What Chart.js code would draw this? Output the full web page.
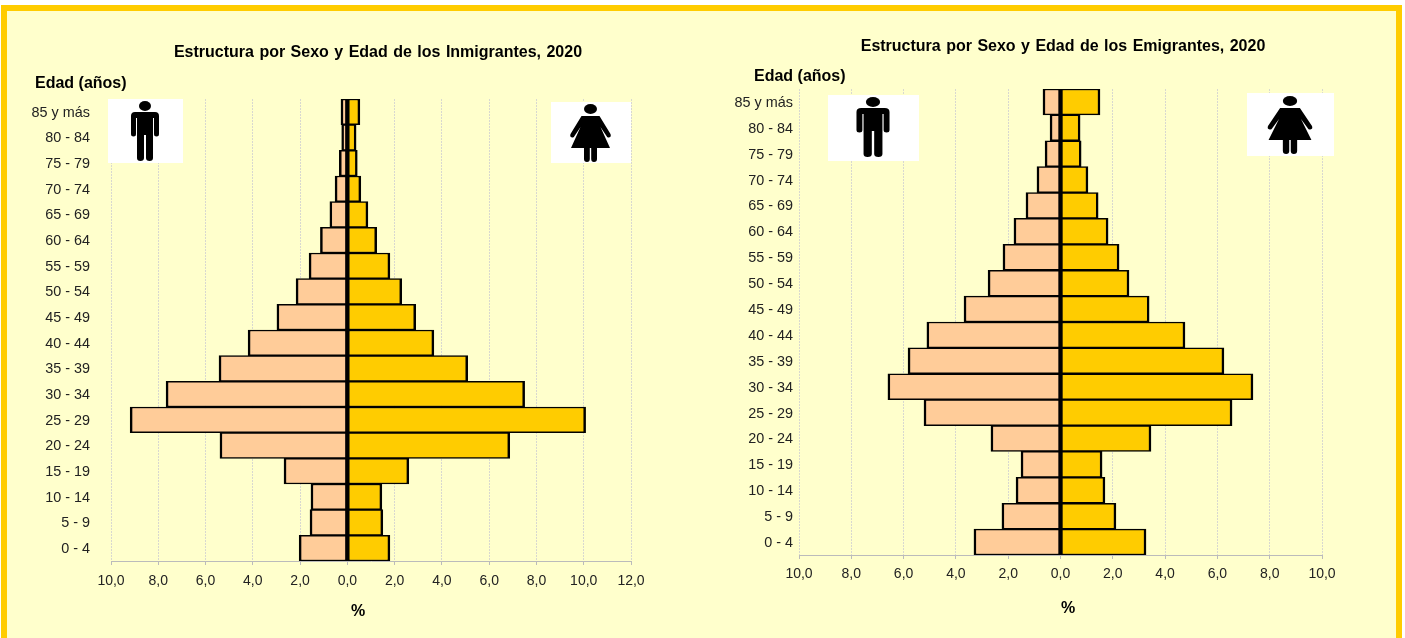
<!DOCTYPE html>
<html><head><meta charset="utf-8">
<script src="https://cdn.jsdelivr.net/npm/chart.js@4"></script>
<style>
html,body{margin:0;padding:0;background:#fff;}
#frame{position:absolute;left:1px;top:5px;width:1401px;height:640px;box-sizing:border-box;border:6px solid #FFCC00;background:#FFFFCC;}
#wrap{position:absolute;left:0;top:0;width:1405px;height:638px;overflow:hidden;}
canvas{position:absolute;}
.ic{position:absolute;background:#fff;}
</style></head><body>
<div id="wrap">
<div id="frame"></div>
<canvas id="c1" style="left:20px;top:30px;width:700px;height:600px" width="700" height="600"></canvas>
<canvas id="c2" style="left:720px;top:25px;width:666px;height:600px" width="666" height="600"></canvas>
<svg class="ic" style="left:108px;top:99px" width="75" height="64" viewBox="0 0 75 64"><use href="#man" transform="translate(37,-1)"/></svg>
<svg class="ic" style="left:551px;top:102px" width="80" height="61" viewBox="0 0 80 61"><use href="#woman" transform="translate(39.5,0)"/></svg>
<svg class="ic" style="left:828px;top:95px" width="91" height="66" viewBox="0 0 91 66"><use href="#man" transform="translate(45,-1) scale(1.18,1)"/></svg>
<svg class="ic" style="left:1247px;top:93px" width="87" height="63" viewBox="0 0 87 63"><use href="#woman" transform="translate(43,1) scale(1.1,1)"/></svg>
<svg width="0" height="0" style="position:absolute"><defs>
<g id="man" fill="#000"><ellipse cx="0" cy="8" rx="6" ry="5"/><path d="M-10 14H10Q14 14 14 18V36Q14 38.5 11.5 38.5Q9 38.5 9 36V20H8V60Q8 63 4.6 63Q1 63 1 60V37H-1V60Q-1 63 -4.6 63Q-8 63 -8 60V20H-9V36Q-9 38.5 -11.5 38.5Q-14 38.5 -14 36V18Q-14 14 -10 14Z"/></g>
<g id="woman" fill="#000"><ellipse cx="0" cy="7" rx="6.5" ry="5"/><path d="M-9 14H9L20 32Q21 35 18.5 35.5Q17 36 16 34L10 25L19.5 46H6.5V57Q6.5 60 3.5 60Q0.7 60 0.7 57V46H-0.7V57Q-0.7 60 -3.5 60Q-6.5 60 -6.5 57V46H-19.5L-10 25L-16 34Q-17 36 -18.5 35.5Q-21 35 -20 32Z"/></g>
</defs></svg>
</div>
<script>
const categories = ["0 - 4","5 - 9","10 - 14","15 - 19","20 - 24","25 - 29","30 - 34","35 - 39","40 - 44","45 - 49","50 - 54","55 - 59","60 - 64","65 - 69","70 - 74","75 - 79","80 - 84","85 y más"];
const inmigrantesHombres = [2.04,1.58,1.54,2.68,5.39,9.19,7.67,5.43,4.2,2.98,2.17,1.62,1.14,0.74,0.52,0.34,0.24,0.27];
const inmigrantesMujeres = [1.8,1.5,1.46,2.6,6.87,10.08,7.5,5.09,3.66,2.89,2.3,1.8,1.24,0.87,0.57,0.42,0.37,0.53];
const emigrantesHombres = [3.31,2.24,1.7,1.51,2.66,5.22,6.6,5.83,5.11,3.69,2.77,2.2,1.78,1.32,0.9,0.59,0.4,0.67];
const emigrantesMujeres = [3.27,2.12,1.7,1.59,3.46,6.56,7.36,6.25,4.76,3.39,2.62,2.24,1.82,1.44,1.05,0.79,0.75,1.51];
const tituloInm = "Estructura por Sexo y Edad de los Inmigrantes, 2020";
const tituloEmi = "Estructura por Sexo y Edad de los Emigrantes, 2020";
const FONT = "'Liberation Sans', Arial, sans-serif";

function pyramid(id, title, men, women, xmin, xmax, g){
  new Chart(document.getElementById(id), {
    type:'bar',
    data:{labels:categories, datasets:[
      {label:'Hombres', data:men.map(v=>-v), backgroundColor:'#FFCC99', borderColor:'#000', borderWidth:{left:2.5,right:2,top:1.5,bottom:1.5}, borderSkipped:false},
      {label:'Mujeres', data:women, backgroundColor:'#FFCC00', borderColor:'#000', borderWidth:{left:2,right:2.5,top:1.5,bottom:1.5}, borderSkipped:false}
    ]},
    options:{
      indexAxis:'y', responsive:false, animation:false,
      layout:{padding:{top:g.top,right:g.right,bottom:0,left:0}},
      datasets:{bar:{barPercentage:1,categoryPercentage:1}},
      plugins:{legend:{display:false},tooltip:{enabled:false},
        title:{display:false},
        pageText:{items:[
          {text:title,x:g.titleX,y:g.titleY,align:'center',size:16,ws:'1px'},
          {text:"Edad (años)",x:g.edadX,y:g.edadY,align:'left',size:16,ws:'0px'},
          {text:"%",x:g.pctX,y:g.pctY,align:'center',size:16,ws:'0px'}
        ]}},
      scales:{
        x:{type:'linear',stacked:true,min:xmin,max:xmax,
          grid:{color:'#D8D8D0',lineWidth:1,drawTicks:true,tickLength:4,tickColor:'#BBBBBB'},
          border:{color:'#BBBBBB',dash:[2,1]},
          ticks:{stepSize:2,maxRotation:0,autoSkip:false,color:'#222',font:{family:FONT,size:14},padding:g.xPad,
            callback:v=>Math.abs(v).toFixed(1).replace('.',',')},
          afterFit:s=>{s.height=g.bottomH;}},
        y:{stacked:true,reverse:true,
          grid:{display:false,drawTicks:false,tickLength:0},border:{display:false},
          ticks:{autoSkip:false,color:'#222',font:{family:FONT,size:14.4},padding:g.tickPad,labelOffset:1},
          afterFit:s=>{s.width=g.leftW;}}
      }
    },
    plugins:[{id:'pageText',afterDatasetsDraw(chart){
      const c=chart.ctx,a=chart.chartArea,x0=chart.scales.x.getPixelForValue(0);
      c.save();c.strokeStyle='#000';c.lineWidth=3;c.beginPath();c.moveTo(x0,a.top);c.lineTo(x0,a.bottom);c.stroke();c.restore();
    },afterDraw(chart,a,o){
      const c=chart.ctx;c.save();c.fillStyle='#000';c.textBaseline='middle';
      o.items.forEach(t=>{c.font='bold '+t.size+'px '+FONT;c.textAlign=t.align;
        if('wordSpacing' in c)c.wordSpacing=t.ws;c.fillText(t.text,t.x,t.y);});
      c.restore();}}]
  });
}
pyramid('c1',tituloInm,inmigrantesHombres,inmigrantesMujeres,-10,12,
  {top:69,right:89,leftW:91,bottomH:69,tickPad:21,xPad:8,titleX:358,titleY:23,edadX:15,edadY:54,pctX:338,pctY:582});
pyramid('c2',tituloEmi,emigrantesHombres,emigrantesMujeres,-10,10,
  {top:64,right:64,leftW:79,bottomH:70,tickPad:6,xPad:7,titleX:343,titleY:22,edadX:34,edadY:52,pctX:348,pctY:584});
</script>
</body></html>
